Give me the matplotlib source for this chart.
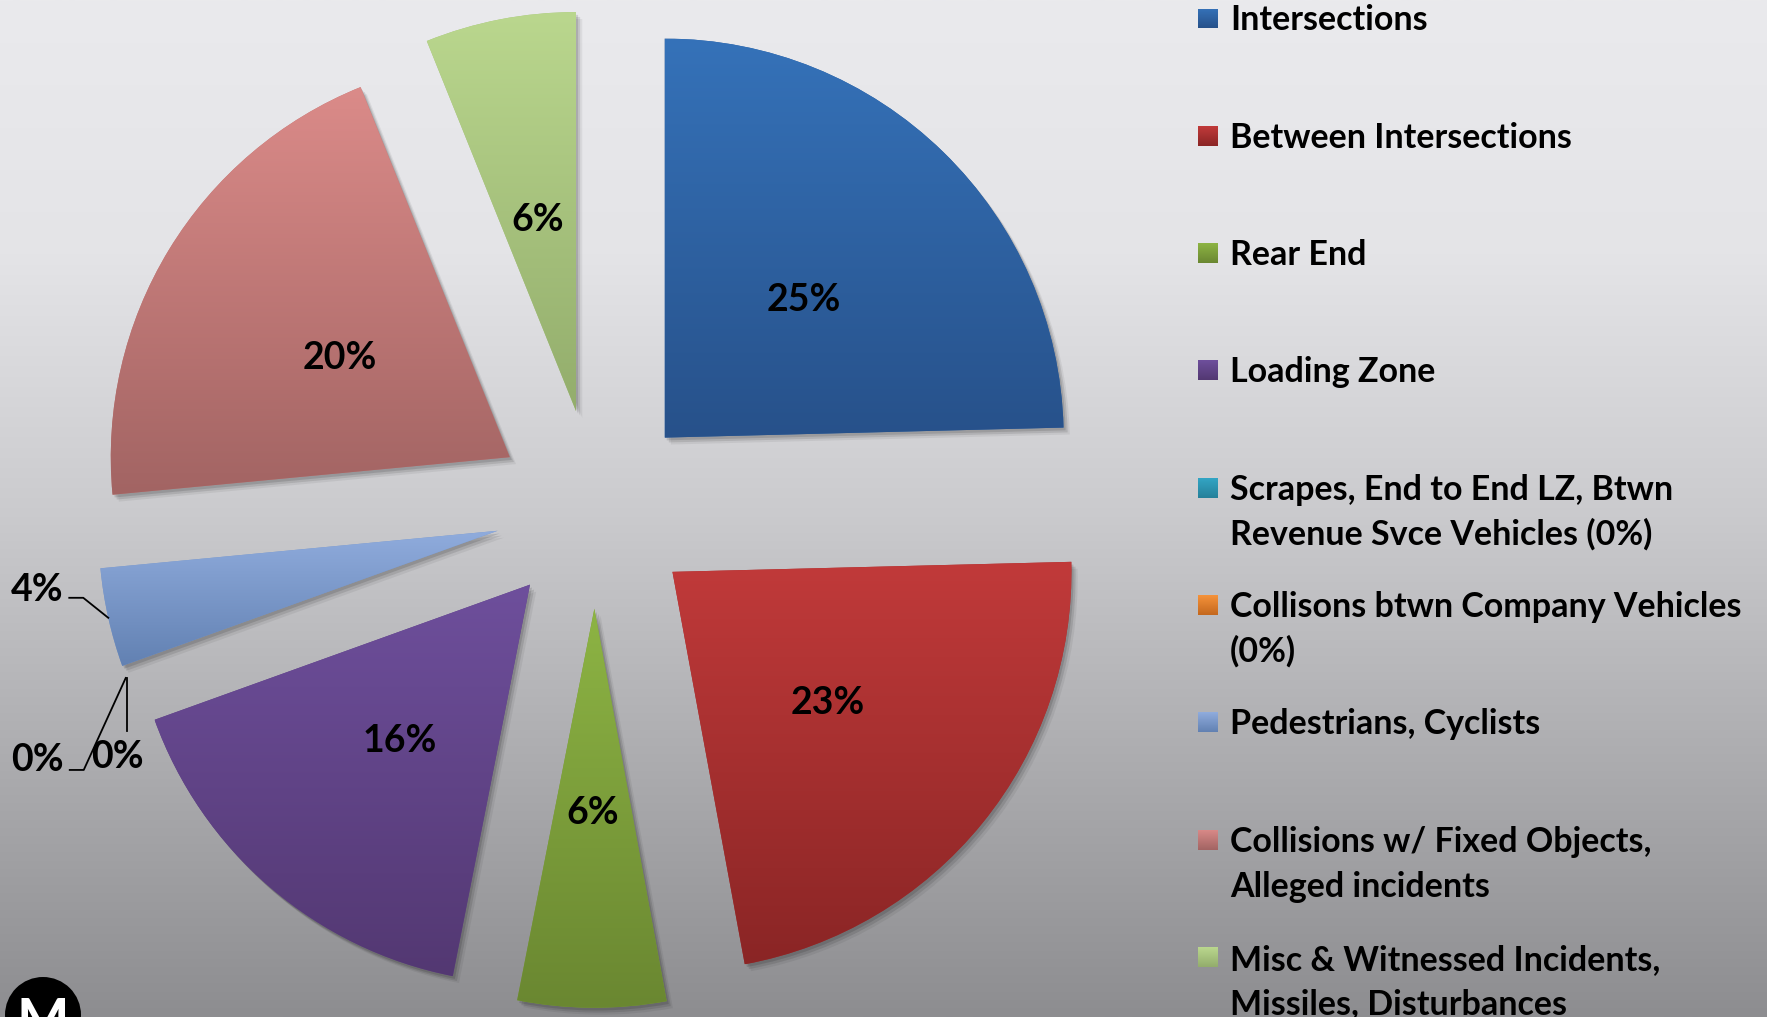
import math
import numpy as np
import matplotlib
matplotlib.use("Agg")
import matplotlib.pyplot as plt
from matplotlib import patheffects as pe
from matplotlib.colors import LinearSegmentedColormap, to_rgb
from matplotlib.patches import Circle

# ---------------- data ----------------
categories = [
    "Intersections",
    "Between Intersections",
    "Rear End",
    "Loading Zone",
    "Scrapes, End to End LZ, Btwn\nRevenue Svce Vehicles (0%)",
    "Collisons btwn Company Vehicles\n(0%)",
    "Pedestrians, Cyclists",
    "Collisions w/ Fixed Objects,\nAlleged incidents",
    "Misc & Witnessed Incidents,\nMissiles, Disturbances",
]
shares = [24.6, 22.5, 6.0, 16.4, 0.0, 0.0, 4.0, 20.4, 6.1]

top_colors = ["#3572B9", "#C13A3A", "#8DB444", "#6E4F9C", "#33A5C4",
              "#F5923A", "#90ACDD", "#DB8B89", "#BAD78E"]
bottom_colors = ["#27518A", "#8A2525", "#6A8731", "#533872", "#25809A",
                 "#C4681E", "#6281B2", "#A26463", "#93AD6C"]

# ---------------- figure ----------------
W, H, DPI = 1767, 1017, 100
plt.rcParams["font.family"] = ["Lato", "DejaVu Sans"]
fig = plt.figure(figsize=(W / DPI, H / DPI), dpi=DPI)

# background gradient
bg = fig.add_axes([0, 0, 1, 1], zorder=0)
bg.axis("off")
ys = np.linspace(0, 1, 600)
gv = np.interp(ys, [0, 0.25, 0.5, 0.75, 1.0], [234, 228, 203, 172, 141]) / 255
img = np.stack([gv, gv, np.clip(gv + 3 / 255, 0, 1)], axis=-1)[:, None, :]
bg.imshow(img, aspect="auto", extent=[0, 1, 0, 1], interpolation="bilinear")
bg.set_xlim(0, 1)
bg.set_ylim(0, 1)

# pie axes: 1 data unit == R pixels, pie centre at (cx, cy) pixels from top-left
R = 399.0
cx, cy = 595.0, 509.0
ax = fig.add_axes([0, 0, 1, 1], zorder=1)
ax.patch.set_alpha(0)
mid_colors = [tuple((np.array(to_rgb(t)) + np.array(to_rgb(b))) / 2)
              for t, b in zip(top_colors, bottom_colors)]
wedges, _ = ax.pie(shares, startangle=90, counterclock=False,
                   explode=[0.25] * len(shares), radius=1.0,
                   colors=mid_colors, wedgeprops=dict(linewidth=0))

shadow = [pe.SimplePatchShadow(offset=(1.5, -2.0), shadow_rgbFace="black", alpha=0.12),
          pe.SimplePatchShadow(offset=(3.0, -3.5), shadow_rgbFace="black", alpha=0.10),
          pe.SimplePatchShadow(offset=(4.5, -5.0), shadow_rgbFace="black", alpha=0.06),
          pe.Normal()]

total = sum(shares)
fs_lbl = 27
for w, s, tc, bc in zip(wedges, shares, top_colors, bottom_colors):
    if w.theta2 - w.theta1 < 1e-6:
        w.set_visible(False)
        continue
    w.set_path_effects(shadow)
    v = w.get_path().vertices
    x0, y0 = v.min(0)
    x1, y1 = v.max(0)
    cmap = LinearSegmentedColormap.from_list("g", [bc, tc])
    grad = np.linspace(1, 0, 256)[:, None]
    im = ax.imshow(grad, cmap=cmap, vmin=0, vmax=1, extent=[x0, x1, y0, y1],
                   aspect="auto", zorder=3, interpolation="bilinear")
    im.set_clip_path(w)

def pct_text(s):
    return "%d%%" % math.floor(s / total * 100 + 0.5 + 1e-9)

px = 1.0 / R  # one pixel in data units
for i, (w, s) in enumerate(zip(wedges, shares)):
    ang = np.deg2rad((w.theta1 + w.theta2) / 2)
    ox, oy = w.center
    if s >= 5:
        ax.text(ox + 0.5 * np.cos(ang), oy + 0.5 * np.sin(ang) - 5 * px, pct_text(s),
                ha="center", va="center", fontsize=fs_lbl, fontweight="bold",
                color="black", zorder=5)

# Pedestrians (small slice) label outside with leader
iw = categories.index("Pedestrians, Cyclists")
w = wedges[iw]
ang = np.deg2rad((w.theta1 + w.theta2) / 2)
ax_, ay_ = w.center[0] + np.cos(ang), w.center[1] + np.sin(ang)
ax.plot([ax_, ax_ - 25 * px, ax_ - 39 * px], [ay_, ay_ + 20 * px, ay_ + 20 * px],
        color="black", lw=1.3, zorder=5)
ax.text(ax_ - 71 * px, ay_ + 28 * px, pct_text(shares[iw]), ha="center", va="center",
        fontsize=fs_lbl, fontweight="bold", zorder=5)

# zero slices: labels outside with leaders
iz = [i for i, s in enumerate(shares) if s == 0]
w = wedges[iz[0]]
ang = np.deg2rad(w.theta1)
zx, zy = w.center[0] + np.cos(ang), w.center[1] + np.sin(ang)
# first zero slice
ax.plot([zx, zx - 42 * px, zx - 56 * px], [zy, zy - 92 * px, zy - 92 * px],
        color="black", lw=1.3, zorder=5)
ax.text(zx - 88 * px, zy - 82 * px, pct_text(shares[iz[0]]), ha="center", va="center",
        fontsize=fs_lbl, fontweight="bold", zorder=5)
# second zero slice
ax.plot([zx + 1 * px, zx + 1 * px], [zy, zy - 53 * px], color="black", lw=1.3, zorder=5)
ax.text(zx - 8 * px, zy - 79 * px, pct_text(shares[iz[1]]), ha="center", va="center",
        fontsize=fs_lbl, fontweight="bold", zorder=5)

ax.set_aspect("auto")
ax.set_xlim(-cx / R, (W - cx) / R)
ax.set_ylim(-(H - cy) / R, cy / R)
ax.axis("off")

# ---------------- legend (manual, fixed row pitch) ----------------
leg_x_sq, leg_x_txt = 1198, 1230
row0, pitch, sq, line_pitch = 18.5, 117.3, 20, 45.0
for i, (lab, tc, bc) in enumerate(zip(categories, top_colors, bottom_colors)):
    yc = row0 + pitch * i
    sax = fig.add_axes([leg_x_sq / W, 1 - (yc + sq / 2) / H, sq / W, sq / H], zorder=2)
    sax.axis("off")
    sax.imshow(np.linspace(1, 0, 64)[:, None],
               cmap=LinearSegmentedColormap.from_list("s", [bc, tc]),
               vmin=0, vmax=1, aspect="auto", interpolation="bilinear")
    n = lab.count("\n") + 1
    fig.text(leg_x_txt / W, 1 - (yc + 12 + (n - 1) * line_pitch) / H, lab,
             ha="left", va="baseline", fontsize=24.5, fontweight="bold",
             color="black", linespacing=1.47, zorder=3)

# ---------------- metro logo ----------------
fig.patches.append(Circle((43, H - 1015), 38, transform=None, facecolor="black",
                          edgecolor="none", zorder=4))
fig.text(43 / W, 1 - 1022 / H, "M", ha="center", va="center", fontsize=40,
         fontweight="bold", color="white", zorder=5)

fig.savefig("out.png", dpi=DPI)
